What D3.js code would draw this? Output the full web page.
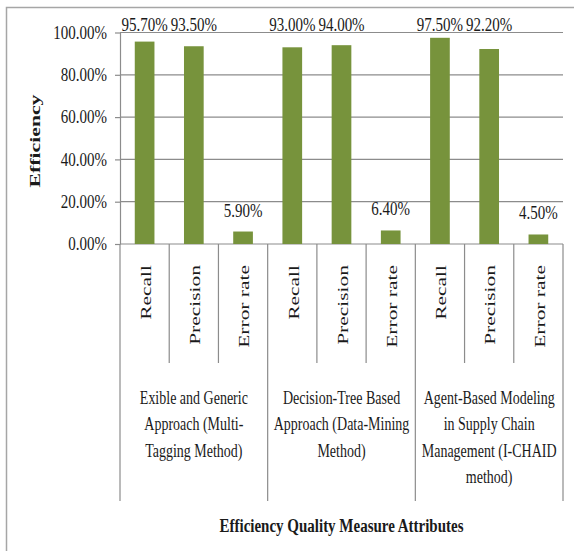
<!DOCTYPE html>
<html lang="en">
  <head>
    <title>Efficiency chart</title>
    <script src="https://d3js.org/d3.v7.min.js"></script>
    <style>
      body { margin: 0; background: #fff; }
      text { font-family: 'Liberation Serif', 'Times New Roman', serif; fill: #1a1a1a; }
    </style>
  </head>

  <body>
    <div id='chart'></div>

    <script type='text/javascript'>
      // data
      let groups = [
        ['Exible and Generic', 'Approach (Multi-', 'Tagging Method)'],
        ['Decision-Tree  Based', 'Approach (Data-Mining', 'Method)'],
        ['Agent-Based Modeling', 'in Supply Chain', 'Management (I-CHAID', 'method)']
      ]
      let measures = ['Recall', 'Precision', 'Error rate']
      let values = [
        [0.957, 0.935, 0.059],
        [0.930, 0.940, 0.064],
        [0.975, 0.922, 0.045]
      ]
      let valueLabels = [
        ['95.70%', '93.50%', '5.90%'],
        ['93.00%', '94.00%', '6.40%'],
        ['97.50%', '92.20%', '4.50%']
      ]
      let yTicks = [0, 0.2, 0.4, 0.6, 0.8, 1.0]

      let width = 574, height = 551
      let plot = {left: 120, right: 563, top: 32.5, bottom: 244}

      let svg = d3.select('#chart').append('svg')
        .attr('width', width)
        .attr('height', height)

      // outer frame (runs off the right and bottom edges)
      svg.append('rect')
        .attr('x', 6.5).attr('y', 7.5)
        .attr('width', 700).attr('height', 700)
        .attr('fill', 'none')
        .attr('stroke', '#a6a6a6')
        .attr('stroke-width', 1.5)

      // flatten to 9 categories
      let cats = []
      groups.forEach((g, gi) => measures.forEach((m, mi) => {
        cats.push({id: gi + '-' + mi, gi: gi, measure: m, value: values[gi][mi], label: valueLabels[gi][mi]})
      }))

      let x = d3.scaleBand()
        .domain(cats.map(d => d.id))
        .range([plot.left, plot.right])
        .padding(0)

      let y = d3.scaleLinear()
        .domain([0, 1])
        .range([plot.bottom, plot.top])

      let grey = '#8c8c8c'

      // gridlines
      svg.append('g')
        .selectAll('line')
        .data(yTicks.filter(d => d > 0))
        .join('line')
        .attr('x1', plot.left).attr('x2', plot.right)
        .attr('y1', d => y(d)).attr('y2', d => y(d))
        .attr('stroke', grey)
        .attr('stroke-width', 1.2)

      // y axis
      let yAxis = svg.append('g')
        .attr('transform', 'translate(' + plot.left + ',0)')
        .call(d3.axisLeft(y).tickValues(yTicks).tickFormat(d3.format('.2%')).tickSizeOuter(0).tickSizeInner(5).tickPadding(8))
      yAxis.select('.domain').attr('stroke', grey).attr('stroke-width', 1.2)
      yAxis.selectAll('.tick line').attr('stroke', grey).attr('stroke-width', 1.2)
      yAxis.selectAll('.tick text')
        .attr('font-size', 15)
        .attr('font-family', "'Liberation Serif', 'Times New Roman', serif")
        .attr('fill', '#1a1a1a')
        .attr('dy', '0.3em')
        .attr('transform', 'scale(1,1.25)')

      // x axis baseline
      svg.append('line')
        .attr('x1', plot.left).attr('x2', plot.right)
        .attr('y1', plot.bottom).attr('y2', plot.bottom)
        .attr('stroke', grey).attr('stroke-width', 1.2)

      // separators: short ones between measures, long ones between groups
      let seps = []
      cats.forEach((d, i) => {
        seps.push({x: x(d.id), long: i % 3 == 0})
      })
      seps.push({x: plot.right, long: true})
      svg.append('g')
        .selectAll('line')
        .data(seps)
        .join('line')
        .attr('x1', d => d.x).attr('x2', d => d.x)
        .attr('y1', plot.bottom)
        .attr('y2', d => d.long ? 501 : 363)
        .attr('stroke', grey)
        .attr('stroke-width', 1.2)

      // bars
      let bw = x.bandwidth()
      svg.append('g')
        .selectAll('rect')
        .data(cats)
        .join('rect')
        .attr('x', d => x(d.id) + bw * 0.3)
        .attr('width', bw * 0.4)
        .attr('y', d => y(d.value))
        .attr('height', d => y(0) - y(d.value))
        .attr('fill', '#77933c')

      // value labels (the tall ones sit together along the top of the plot)
      function labelY(v) {
        let ly = y(v) - 15
        return ly < 40 ? 31 : ly
      }
      svg.append('g')
        .selectAll('g')
        .data(cats)
        .join('g')
        .attr('transform', d => 'translate(' + (x(d.id) + bw / 2) + ',' + labelY(d.value) + ') scale(1,1.25)')
        .append('text')
        .attr('text-anchor', 'middle')
        .attr('font-size', 15)
        .text(d => d.label)

      // rotated measure labels
      svg.append('g')
        .selectAll('g')
        .data(cats)
        .join('g')
        .attr('transform', d => 'translate(' + (x(d.id) + bw / 2 + 1) + ',265) rotate(-90) scale(1.43,1)')
        .append('text')
        .attr('text-anchor', 'end')
        .attr('dy', '0.35em')
        .attr('font-size', 15)
        .text(d => d.measure)

      // group labels
      groups.forEach((lines, gi) => {
        let first = x(gi + '-0'), last = x(gi + '-2') + bw
        let cx = (first + last) / 2
        lines.forEach((t, li) => {
          svg.append('g')
            .attr('transform', 'translate(' + cx + ',' + (397 + li * 26.5) + ') scale(1,1.35)')
            .append('text')
            .attr('text-anchor', 'middle')
            .attr('dy', '0.35em')
            .attr('font-size', 14)
            .text(t)
        })
      })

      // axis titles
      svg.append('g')
        .attr('transform', 'translate(35,141) rotate(-90) scale(1.45,1)')
        .append('text')
        .attr('text-anchor', 'middle')
        .attr('dy', '0.35em')
        .attr('font-size', 15)
        .attr('font-weight', 'bold')
        .text('Efficiency')

      svg.append('g')
        .attr('transform', 'translate(' + ((plot.left + plot.right) / 2) + ',525) scale(1,1.3)')
        .append('text')
        .attr('text-anchor', 'middle')
        .attr('dy', '0.35em')
        .attr('font-size', 15)
        .attr('font-weight', 'bold')
        .text('Efficiency Quality Measure Attributes')
    </script>
  </body>
</html>
